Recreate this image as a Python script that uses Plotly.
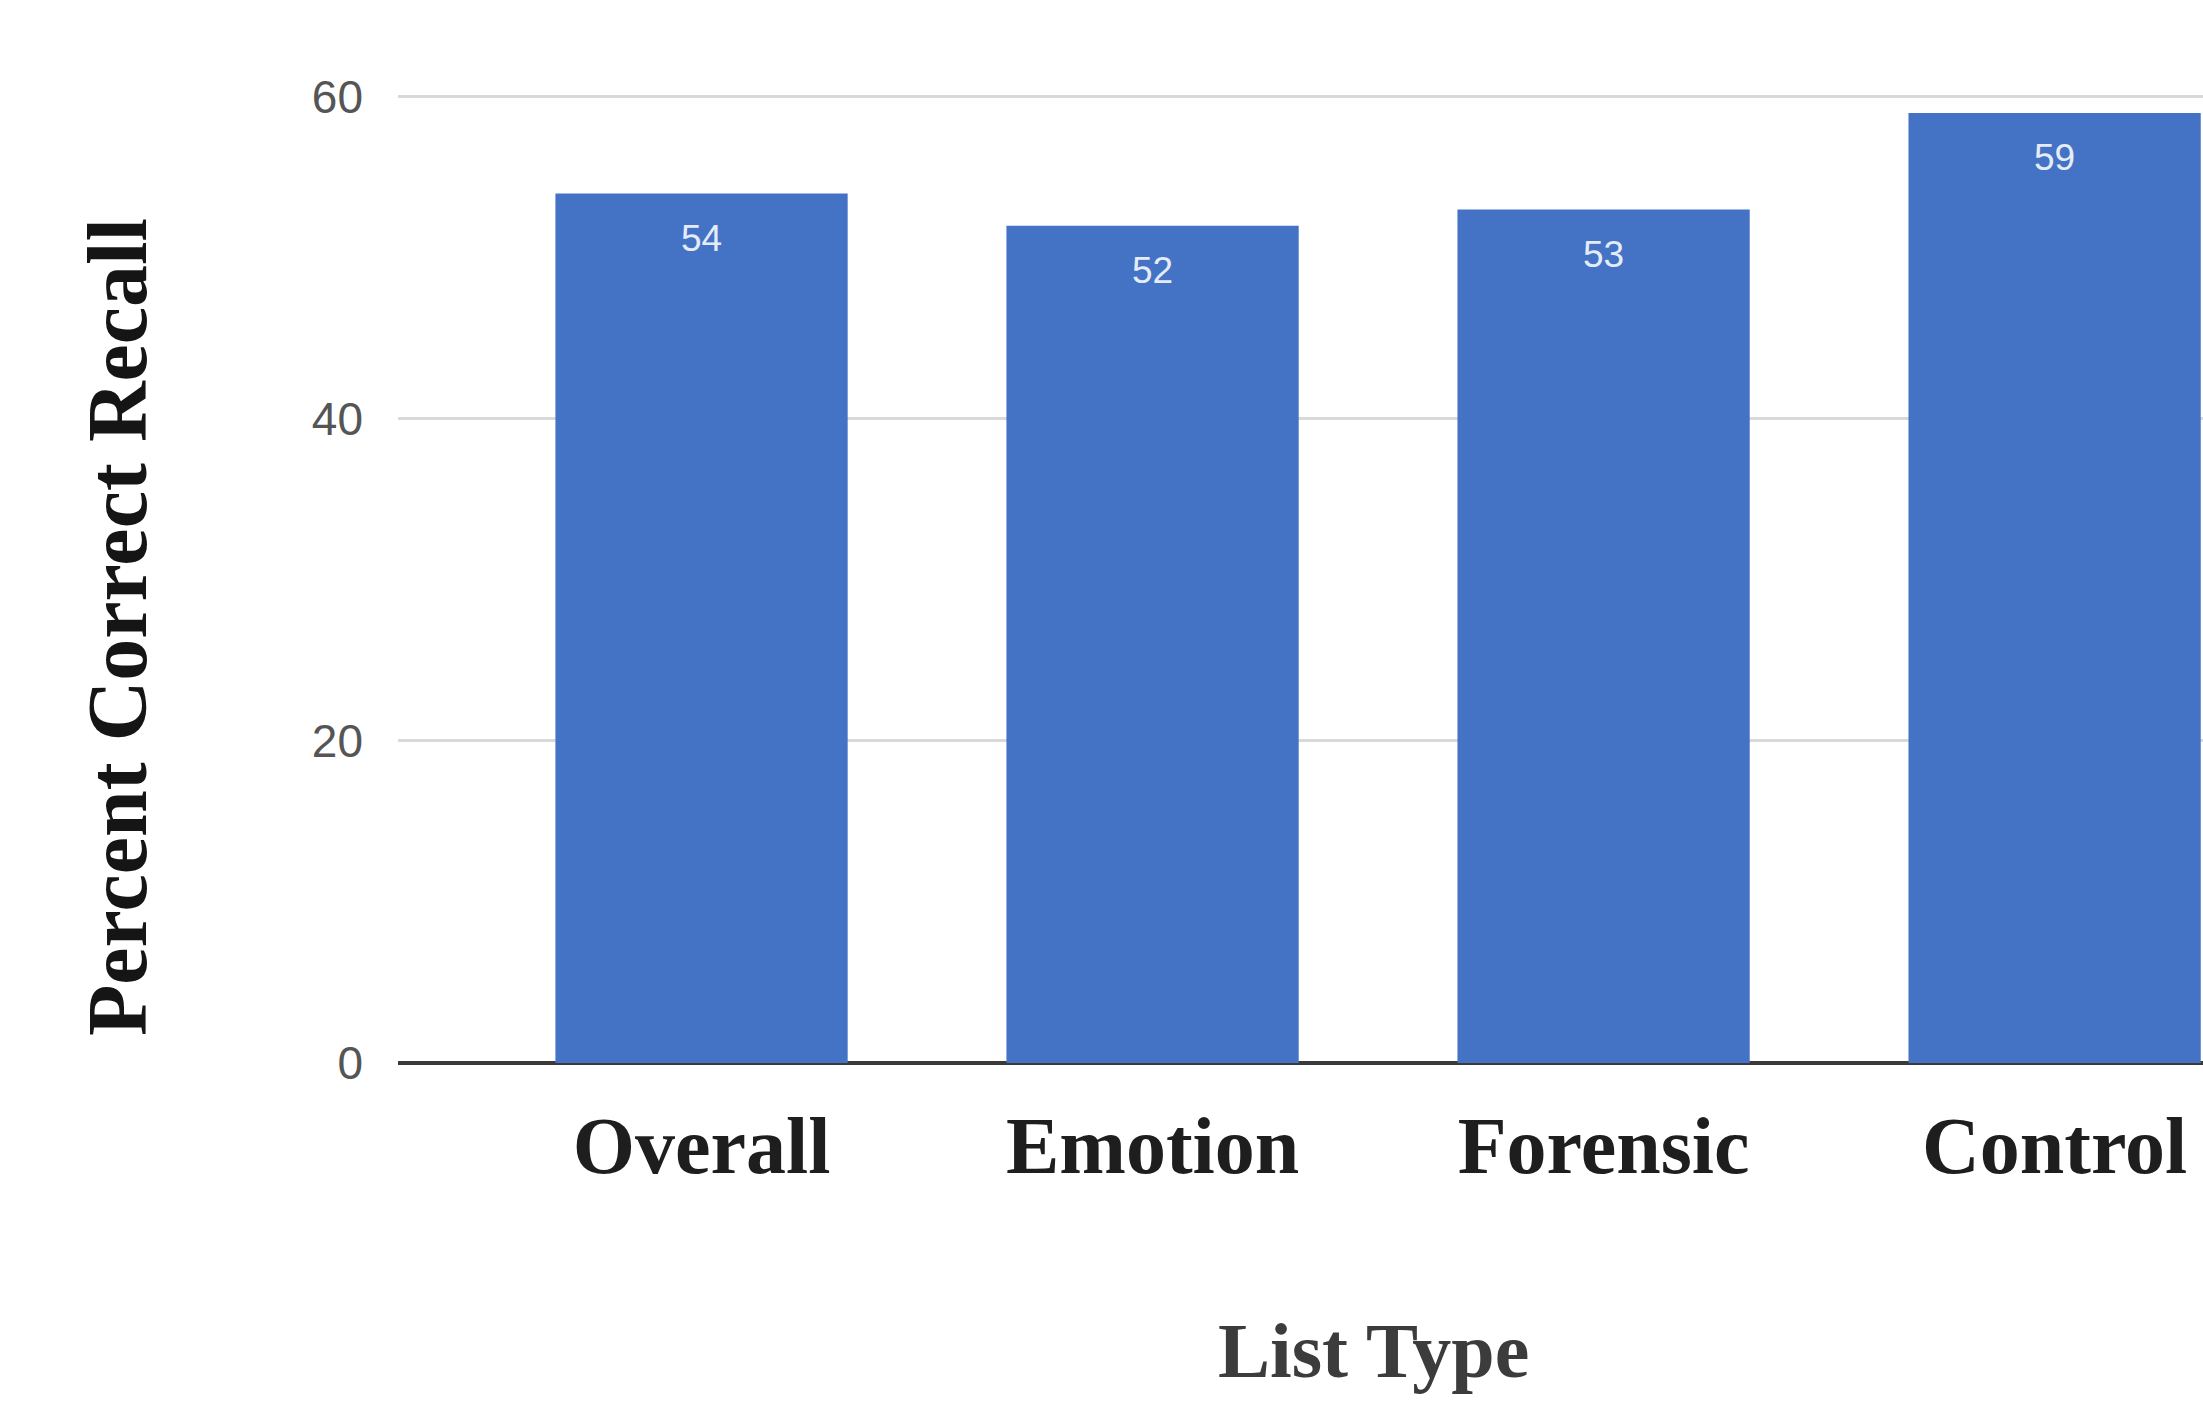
import plotly.graph_objects as go

# Recall percentages by list type
categories = ["Overall", "Emotion", "Forensic", "Control"]
recall_pct = [54, 52, 53, 59]
y_ticks = [0, 20, 40, 60]

W, H = 2203, 1406
M_L, M_R, M_T, M_B = 398, 0, 92, 343
BAR_COLOR = "#4472C4"

fig = go.Figure()
fig.add_trace(go.Bar(
    x=list(range(len(categories))),
    y=recall_pct,
    marker=dict(color=BAR_COLOR, line=dict(width=0)),
    width=0.648,
    hoverinfo="skip",
))

# value labels just inside the top of each bar
for i, v in enumerate(recall_pct):
    fig.add_annotation(
        x=i, y=v, xref="x", yref="y",
        text=str(v), showarrow=False,
        yshift=-45, yanchor="middle",
        font=dict(family="Liberation Sans, Arial, sans-serif", size=37, color="#e4ecf8"),
    )

# axis titles
fig.add_annotation(
    x=0.5407, y=-0.296, xref="paper", yref="paper",
    text="<b>List Type</b>", showarrow=False,
    xanchor="center", yanchor="middle",
    font=dict(family="Liberation Serif, Times New Roman, serif", size=78, color="#3c3c3c"),
)
fig.add_annotation(
    x=-0.1557, y=0.449, xref="paper", yref="paper",
    text="<b>Percent Correct Recall</b>", showarrow=False, textangle=-90,
    xanchor="center", yanchor="middle",
    font=dict(family="Liberation Serif, Times New Roman, serif", size=84, color="#151515"),
)

fig.update_layout(
    width=W, height=H,
    margin=dict(l=M_L, r=M_R, t=M_T, b=M_B, pad=0),
    paper_bgcolor="white",
    plot_bgcolor="white",
    showlegend=False,
    bargap=0.35,
)

fig.update_xaxes(
    range=[-0.673, 3.329],
    tickmode="array",
    tickvals=list(range(len(categories))),
    ticktext=[f"<b>{c}</b>" for c in categories],
    tickfont=dict(family="Liberation Serif, Times New Roman, serif", size=80, color="#1e1e1e"),
    ticks="",
    ticklabelstandoff=29,
    showgrid=False,
    zeroline=False,
    showline=False,
)

fig.update_yaxes(
    range=[0, 60.3],
    tickmode="array",
    tickvals=y_ticks,
    ticktext=[str(t) for t in y_ticks],
    tickfont=dict(family="Liberation Sans, Arial, sans-serif", size=46, color="#555555"),
    ticks="",
    ticklabelstandoff=34,
    showgrid=True,
    gridcolor="#d9d9d9",
    gridwidth=3,
    zeroline=True,
    zerolinecolor="#3a3a3a",
    zerolinewidth=4,
    showline=False,
)

fig.write_html("out.html")
